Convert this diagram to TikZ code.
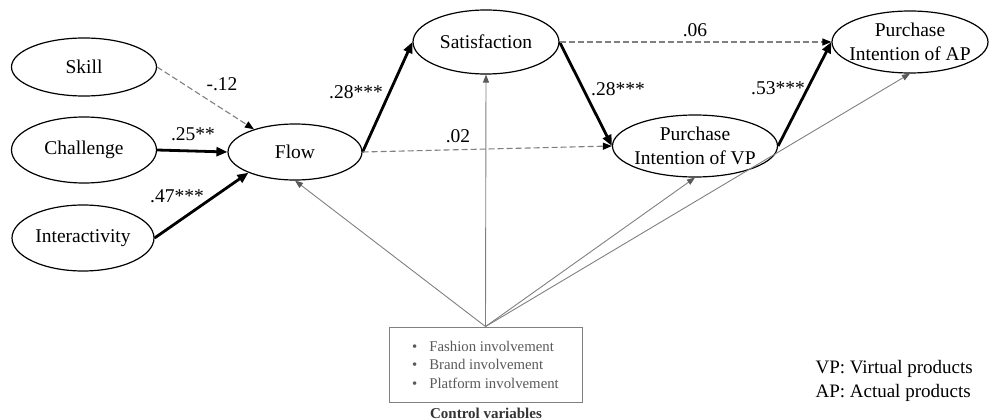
\documentclass[tikz,border=0pt]{standalone}
\usepackage{fontspec}
\setmainfont{Liberation Serif}
\usetikzlibrary{shapes.geometric,arrows.meta}

\begin{document}
\begin{tikzpicture}
	[x=1pt,y=-1pt,
	every node/.style={font=\fontsize{19.5}{24}\selectfont},
	latent/.style={ellipse,draw,line width=1.2pt,inner sep=0pt,align=center},
	coef/.style={inner sep=0pt},
	sig/.style={line width=2.8pt,-{Triangle[length=11pt,width=9pt]}},
	nonsig/.style={gray,line width=1.1pt,dash pattern=on 6pt off 3pt,-{Triangle[length=9pt,width=7pt,color=black]}},
	ctrl/.style={gray,line width=0.9pt,-{Triangle[length=8pt,width=6pt,color=black!65]}}]
	\useasboundingbox (0,0) rectangle (989,420);
	
	\node[latent,minimum width=145,minimum height=58] (skill) at (84,67) {Skill};
	\node[latent,minimum width=145,minimum height=66] (challenge) at (84,150) {Challenge};
	\node[latent,minimum width=142,minimum height=66] (interactivity) at (83,238) {Interactivity};
	\node[latent,minimum width=134,minimum height=56] (flow) at (295,152) {Flow};
	\node[latent,minimum width=146,minimum height=64] (sat) at (486,42) {Satisfaction};
	\node[latent,inner xsep=-6pt,minimum width=165,minimum height=62] (pivp) at (695,146) {Purchase\\Intention of VP};
	\node[latent,inner xsep=-6pt,minimum width=156,minimum height=62] (piap) at (910,42) {Purchase\\Intention of AP};
	
	\node[draw=gray,line width=0.9pt,minimum width=193,minimum height=75,align=left,text=black!65,
		font=\fontsize{14.8}{18.5}\selectfont] (box) at (485.5,364.5)
		{\textbullet\hspace{12pt}Fashion involvement\\ \textbullet\hspace{12pt}Brand involvement\\ \textbullet\hspace{12pt}Platform involvement};
	\node[font=\fontsize{15}{18}\selectfont\bfseries,text=black!80] (title) at (486,413) {Control variables};
	\node[align=left,anchor=west,font=\fontsize{19}{24}\selectfont] (legend) at (812,381) {VP: Virtual products\\AP: Actual products};
	
	\foreach \from/\to in {challenge.east/flow.west,interactivity.east/flow.204,flow.east/sat.west,sat.east/pivp.west,pivp.east/piap.west}
	\draw[sig] (\from) -- (\to);
	\foreach \from/\to in {skill.east/flow.151,flow.east/pivp.west,sat.east/piap.west}
	\draw[nonsig] (\from) -- (\to);
	\foreach \to in {flow,sat,pivp,piap}
	\draw[ctrl] (box.north) -- (\to.south);
	
	\node[coef] (c1) at (222,84) {-.12};
	\node[coef] (c2) at (193,134) {.25**};
	\node[coef] (c3) at (177,196) {.47***};
	\node[coef] (c4) at (356,92) {.28***};
	\node[coef] (c5) at (458,136) {.02};
	\node[coef] (c6) at (618,89) {.28***};
	\node[coef] (c7) at (695,30) {.06};
	\node[coef] (c8) at (778,88) {.53***};
\end{tikzpicture}
\end{document}
